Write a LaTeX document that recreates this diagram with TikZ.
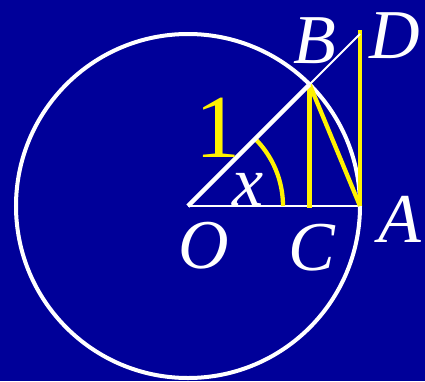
\documentclass[tikz,border=0pt]{standalone}
\usepackage{fontspec}
\setmainfont{Liberation Serif}
\usetikzlibrary{positioning}
\definecolor{slideblue}{RGB}{0,0,153}
\tikzset{
  ptlabel/.style={anchor=base, inner sep=0pt, text=white, font=\fontsize{70}{80}\selectfont\itshape},
  yline/.style={draw=yellow, line width=4.3pt},
  wline/.style={draw=white, line width=#1},
  wline/.default=2pt,
}

\begin{document}
\begin{tikzpicture}[x=1pt, y=1pt]
    \fill[slideblue] (-188,-175) rectangle (237,206);
    \useasboundingbox (-188,-175) rectangle (237,206);
    \coordinate (O) at (0,0);
    \coordinate (A) at (172,0);
    \coordinate (B) at (45:172);
    \coordinate (C) at (B |- O);
    \coordinate (D) at (172,172);
    \coordinate (arcstart) at (95,0);
    \draw[wline=4pt] (O) circle (172);
    \draw[wline] (O) -- (A);
    \draw[yline] (B) -- ([yshift=-2pt]C);
    \draw[yline] (B) -- (A);
    \draw[yline] (A) -- ([yshift=4pt]D);
    \draw[yline] (arcstart) arc (0:45:95);
    \draw[wline=4.5pt] (O) -- (B);
    \draw[wline] (B) -- (D);
    \node[ptlabel] (lblB) at (127,143) {B};
    \node[ptlabel] (lblD) at (207,148) {D};
    \node[ptlabel] (lblA) at (212,-36) {A};
    \node[ptlabel] (lblC) at (124,-64) {C};
    \node[ptlabel] (lblO) at (16,-62) {O};
    \node[ptlabel] (lblx) at (60,1) {x};
    \node[ptlabel, text=yellow, font=\fontsize{90}{100}\selectfont] (lblone) at (30,49) {1};
\end{tikzpicture}
\end{document}
